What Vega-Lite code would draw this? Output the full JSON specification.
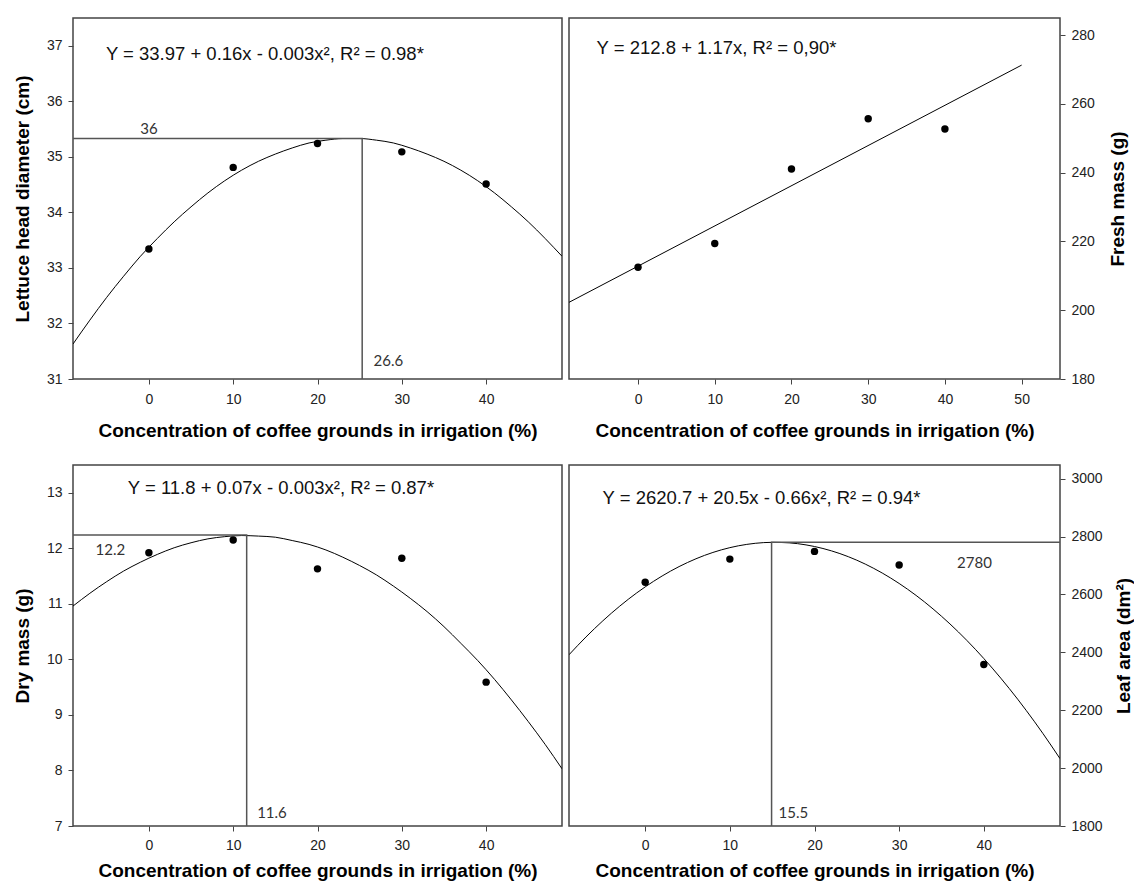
{
  "$schema": "https://vega.github.io/schema/vega-lite/v6.json",
  "background": "white",
  "padding": {"left": 12, "top": 17, "right": 0, "bottom": 0},
  "config": {
    "view": {"stroke": "#444", "strokeWidth": 1.5},
    "axis": {"grid": false, "domain": false, "tickColor": "#444", "tickSize": 5, "labelColor": "#222", "labelFont": "Liberation Sans", "labelFontSize": 14, "labelPadding": 6, "titleFont": "Liberation Sans", "titleFontSize": 19, "titleFontWeight": "bold", "titleColor": "#000"},
    "axisX": {"titlePadding": 15, "labelPadding": 8},
    "axisY": {"titlePadding": 14}
  },
  "spacing": 23,
  "vconcat": [
    {
      "spacing": 5,
      "hconcat": [
        {
          "width": 489, "height": 361,
          "encoding": {
            "x": {"field": "x", "type": "quantitative", "scale": {"domain": [-9, 49], "nice": false, "zero": false}, "axis": {"values": [0, 10, 20, 30, 40], "title": "Concentration of coffee grounds in irrigation (%)"}},
            "y": {"field": "y", "type": "quantitative", "scale": {"domain": [31, 37.5], "nice": false, "zero": false}, "axis": {"values": [31, 32, 33, 34, 35, 36, 37], "title": "Lettuce head diameter (cm)"}}
          },
          "layer": [
            {"data": {"values": [{"x": -9, "y": 31.63}, {"x": -7, "y": 32.06}, {"x": -5, "y": 32.47}, {"x": -3, "y": 32.85}, {"x": -1, "y": 33.21}, {"x": 1, "y": 33.53}, {"x": 3, "y": 33.83}, {"x": 5, "y": 34.1}, {"x": 7, "y": 34.35}, {"x": 9, "y": 34.57}, {"x": 11, "y": 34.76}, {"x": 13, "y": 34.92}, {"x": 15, "y": 35.05}, {"x": 17, "y": 35.16}, {"x": 19, "y": 35.25}, {"x": 21, "y": 35.3}, {"x": 23, "y": 35.33}, {"x": 25, "y": 35.33}, {"x": 27, "y": 35.3}, {"x": 29, "y": 35.25}, {"x": 31, "y": 35.16}, {"x": 33, "y": 35.05}, {"x": 35, "y": 34.92}, {"x": 37, "y": 34.76}, {"x": 39, "y": 34.57}, {"x": 41, "y": 34.35}, {"x": 43, "y": 34.1}, {"x": 45, "y": 33.83}, {"x": 47, "y": 33.53}, {"x": 49, "y": 33.21}]},
             "mark": {"type": "line", "color": "#000", "strokeWidth": 1, "interpolate": "monotone", "clip": true}},
            {"data": {"values": [{"x": -9, "y": 35.33, "o": 1}, {"x": 25.3, "y": 35.33, "o": 2}, {"x": 25.3, "y": 31, "o": 3}]},
             "mark": {"type": "line", "color": "#555", "strokeWidth": 1.5, "clip": true},
             "encoding": {"order": {"field": "o", "type": "quantitative"}}},
            {"data": {"values": [{"x": 0, "y": 33.34}, {"x": 10, "y": 34.81}, {"x": 20, "y": 35.24}, {"x": 30, "y": 35.09}, {"x": 40, "y": 34.51}]},
             "mark": {"type": "point", "filled": true, "color": "#000", "opacity": 1, "size": 55}},
            {"data": {"values": [{"x": 0, "y": 35.51, "t": "36"}, {"x": 28.4, "y": 31.32, "t": "26.6"}]},
             "mark": {"type": "text", "font": "Lato", "fontSize": 15, "color": "#333", "align": "center", "baseline": "middle"},
             "encoding": {"text": {"field": "t"}}},
            {"data": {"values": [{"x": -5.1, "y": 36.85, "t": "Y = 33.97 + 0.16x - 0.003x², R² = 0.98*"}]},
             "mark": {"type": "text", "font": "Liberation Sans", "fontSize": 18.5, "color": "#111", "align": "left", "baseline": "middle"},
             "encoding": {"text": {"field": "t"}}}
          ]
        },
        {
          "width": 491, "height": 361,
          "encoding": {
            "x": {"field": "x", "type": "quantitative", "scale": {"domain": [-9, 55], "nice": false, "zero": false}, "axis": {"values": [0, 10, 20, 30, 40, 50], "title": "Concentration of coffee grounds in irrigation (%)"}},
            "y": {"field": "y", "type": "quantitative", "scale": {"domain": [180, 285], "nice": false, "zero": false}, "axis": {"orient": "right", "format": "d", "values": [180, 200, 220, 240, 260, 280], "title": "Fresh mass (g)", "titleAngle": 270, "titlePadding": 33}}
          },
          "layer": [
            {"data": {"values": [{"x": -9, "y": 202.3}, {"x": 50, "y": 271.3}]},
             "mark": {"type": "line", "color": "#000", "strokeWidth": 1, "clip": true}},
            {"data": {"values": [{"x": 0, "y": 212.5}, {"x": 10, "y": 219.4}, {"x": 20, "y": 241.1}, {"x": 30, "y": 255.7}, {"x": 40, "y": 252.7}]},
             "mark": {"type": "point", "filled": true, "color": "#000", "opacity": 1, "size": 55}},
            {"data": {"values": [{"x": -5.4, "y": 276.4, "t": "Y = 212.8 + 1.17x, R² = 0,90*"}]},
             "mark": {"type": "text", "font": "Liberation Sans", "fontSize": 18.5, "color": "#111", "align": "left", "baseline": "middle"},
             "encoding": {"text": {"field": "t"}}}
          ]
        }
      ]
    },
    {
      "spacing": 5,
      "hconcat": [
        {
          "width": 489, "height": 361,
          "encoding": {
            "x": {"field": "x", "type": "quantitative", "scale": {"domain": [-9, 49], "nice": false, "zero": false}, "axis": {"values": [0, 10, 20, 30, 40], "title": "Concentration of coffee grounds in irrigation (%)", "titlePadding": 9, "labelPadding": 7}},
            "y": {"field": "y", "type": "quantitative", "scale": {"domain": [7, 13.5], "nice": false, "zero": false}, "axis": {"values": [7, 8, 9, 10, 11, 12, 13], "title": "Dry mass (g)"}}
          },
          "layer": [
            {"data": {"values": [{"x": -9, "y": 10.96}, {"x": -7, "y": 11.19}, {"x": -5, "y": 11.4}, {"x": -3, "y": 11.59}, {"x": -1, "y": 11.75}, {"x": 1, "y": 11.89}, {"x": 3, "y": 12.01}, {"x": 5, "y": 12.1}, {"x": 7, "y": 12.17}, {"x": 9, "y": 12.21}, {"x": 11, "y": 12.23}, {"x": 13, "y": 12.22}, {"x": 15, "y": 12.2}, {"x": 17, "y": 12.14}, {"x": 19, "y": 12.07}, {"x": 21, "y": 11.97}, {"x": 23, "y": 11.84}, {"x": 25, "y": 11.69}, {"x": 27, "y": 11.52}, {"x": 29, "y": 11.32}, {"x": 31, "y": 11.1}, {"x": 33, "y": 10.86}, {"x": 35, "y": 10.59}, {"x": 37, "y": 10.29}, {"x": 39, "y": 9.98}, {"x": 41, "y": 9.64}, {"x": 43, "y": 9.27}, {"x": 45, "y": 8.88}, {"x": 47, "y": 8.47}, {"x": 49, "y": 8.03}]},
             "mark": {"type": "line", "color": "#000", "strokeWidth": 1, "interpolate": "monotone", "clip": true}},
            {"data": {"values": [{"x": -9, "y": 12.24, "o": 1}, {"x": 11.6, "y": 12.24, "o": 2}, {"x": 11.6, "y": 7, "o": 3}]},
             "mark": {"type": "line", "color": "#555", "strokeWidth": 1.5, "clip": true},
             "encoding": {"order": {"field": "o", "type": "quantitative"}}},
            {"data": {"values": [{"x": 0, "y": 11.92}, {"x": 10, "y": 12.15}, {"x": 20, "y": 11.63}, {"x": 30, "y": 11.82}, {"x": 40, "y": 9.59}]},
             "mark": {"type": "point", "filled": true, "color": "#000", "opacity": 1, "size": 55}},
            {"data": {"values": [{"x": -4.57, "y": 11.97, "t": "12.2"}, {"x": 14.6, "y": 7.24, "t": "11.6"}]},
             "mark": {"type": "text", "font": "Lato", "fontSize": 15, "color": "#333", "align": "center", "baseline": "middle"},
             "encoding": {"text": {"field": "t"}}},
            {"data": {"values": [{"x": -2.5, "y": 13.08, "t": "Y = 11.8 + 0.07x - 0.003x², R² = 0.87*"}]},
             "mark": {"type": "text", "font": "Liberation Sans", "fontSize": 18.5, "color": "#111", "align": "left", "baseline": "middle"},
             "encoding": {"text": {"field": "t"}}}
          ]
        },
        {
          "width": 491, "height": 361,
          "encoding": {
            "x": {"field": "x", "type": "quantitative", "scale": {"domain": [-9, 49], "nice": false, "zero": false}, "axis": {"values": [0, 10, 20, 30, 40], "title": "Concentration of coffee grounds in irrigation (%)", "titlePadding": 9, "labelPadding": 7}},
            "y": {"field": "y", "type": "quantitative", "scale": {"domain": [1800, 3047], "nice": false, "zero": false}, "axis": {"orient": "right", "format": "d", "values": [1800, 2000, 2200, 2400, 2600, 2800, 3000], "title": "Leaf area (dm²)", "titleAngle": 270, "titlePadding": 31}}
          },
          "layer": [
            {"data": {"values": [{"x": -9, "y": 2391.5}, {"x": -7, "y": 2452.8}, {"x": -5, "y": 2508.8}, {"x": -3, "y": 2559.6}, {"x": -1, "y": 2605.2}, {"x": 1, "y": 2645.4}, {"x": 3, "y": 2680.5}, {"x": 5, "y": 2710.2}, {"x": 7, "y": 2734.7}, {"x": 9, "y": 2753.9}, {"x": 11, "y": 2767.8}, {"x": 13, "y": 2776.5}, {"x": 15, "y": 2779.9}, {"x": 17, "y": 2778.1}, {"x": 19, "y": 2771}, {"x": 21, "y": 2758.6}, {"x": 23, "y": 2741}, {"x": 25, "y": 2718.1}, {"x": 27, "y": 2689.9}, {"x": 29, "y": 2656.5}, {"x": 31, "y": 2617.8}, {"x": 33, "y": 2573.9}, {"x": 35, "y": 2524.6}, {"x": 37, "y": 2470.2}, {"x": 39, "y": 2410.4}, {"x": 41, "y": 2345.4}, {"x": 43, "y": 2275.1}, {"x": 45, "y": 2199.6}, {"x": 47, "y": 2118.8}, {"x": 49, "y": 2032.7}]},
             "mark": {"type": "line", "color": "#000", "strokeWidth": 1, "interpolate": "monotone", "clip": true}},
            {"data": {"values": [{"x": 49, "y": 2780, "o": 1}, {"x": 14.93, "y": 2780, "o": 2}, {"x": 14.93, "y": 1800, "o": 3}]},
             "mark": {"type": "line", "color": "#555", "strokeWidth": 1.5, "clip": true},
             "encoding": {"order": {"field": "o", "type": "quantitative"}}},
            {"data": {"values": [{"x": 0, "y": 2641.7}, {"x": 10, "y": 2722}, {"x": 20, "y": 2748.6}, {"x": 30, "y": 2701.6}, {"x": 40, "y": 2358}]},
             "mark": {"type": "point", "filled": true, "color": "#000", "opacity": 1, "size": 55}},
            {"data": {"values": [{"x": 38.9, "y": 2707, "t": "2780"}, {"x": 17.5, "y": 1846, "t": "15.5"}]},
             "mark": {"type": "text", "font": "Lato", "fontSize": 15, "color": "#333", "align": "center", "baseline": "middle"},
             "encoding": {"text": {"field": "t"}}},
            {"data": {"values": [{"x": -5.03, "y": 2932.5, "t": "Y = 2620.7 + 20.5x - 0.66x², R² = 0.94*"}]},
             "mark": {"type": "text", "font": "Liberation Sans", "fontSize": 18.5, "color": "#111", "align": "left", "baseline": "middle"},
             "encoding": {"text": {"field": "t"}}}
          ]
        }
      ]
    }
  ]
}
